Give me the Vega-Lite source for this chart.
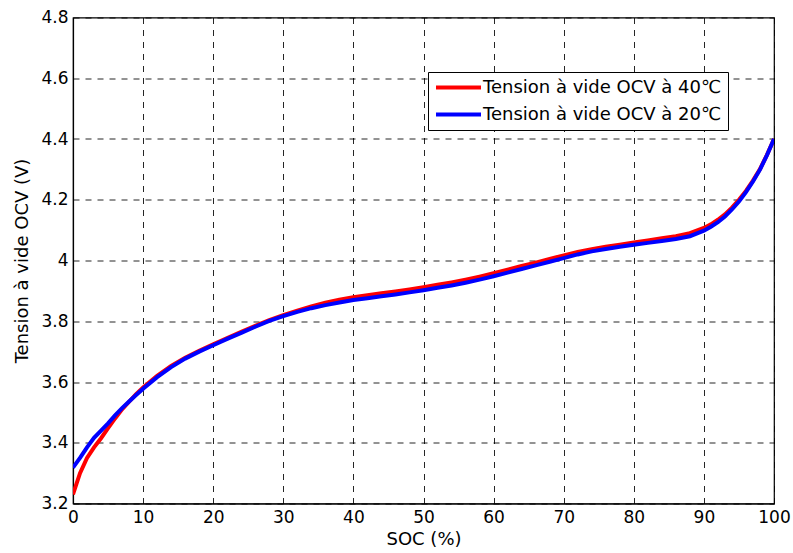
{
  "$schema": "https://vega.github.io/schema/vega-lite/v6.json",
  "width": 701,
  "height": 486,
  "autosize": "none",
  "padding": {"left": 73, "top": 17.5, "right": 19, "bottom": 49.5},
  "background": "white",
  "config": {
    "font": "DejaVu Sans",
    "view": {"stroke": "black", "strokeWidth": 1.2},
    "axis": {
      "labelFont": "DejaVu Sans", "labelFontSize": 17, "labelColor": "black",
      "titleFont": "DejaVu Sans", "titleFontSize": 18, "titleColor": "black", "titleFontWeight": "normal",
      "domainColor": "black", "domainWidth": 1.2,
      "ticks": false,
      "gridColor": "black", "gridOpacity": 0.85, "gridDash": [6, 6], "gridWidth": 1
    }
  },
  "datasets": {
    "ocv": [
      {"soc": 0, "v": 3.23, "serie": "Tension à vide OCV à 40℃"},
      {"soc": 1, "v": 3.30, "serie": "Tension à vide OCV à 40℃"},
      {"soc": 2, "v": 3.35, "serie": "Tension à vide OCV à 40℃"},
      {"soc": 3, "v": 3.385, "serie": "Tension à vide OCV à 40℃"},
      {"soc": 4, "v": 3.415, "serie": "Tension à vide OCV à 40℃"},
      {"soc": 5, "v": 3.448, "serie": "Tension à vide OCV à 40℃"},
      {"soc": 6, "v": 3.48, "serie": "Tension à vide OCV à 40℃"},
      {"soc": 7, "v": 3.51, "serie": "Tension à vide OCV à 40℃"},
      {"soc": 8, "v": 3.535, "serie": "Tension à vide OCV à 40℃"},
      {"soc": 9, "v": 3.56, "serie": "Tension à vide OCV à 40℃"},
      {"soc": 10, "v": 3.582, "serie": "Tension à vide OCV à 40℃"},
      {"soc": 12, "v": 3.62, "serie": "Tension à vide OCV à 40℃"},
      {"soc": 14, "v": 3.653, "serie": "Tension à vide OCV à 40℃"},
      {"soc": 16, "v": 3.68, "serie": "Tension à vide OCV à 40℃"},
      {"soc": 18, "v": 3.703, "serie": "Tension à vide OCV à 40℃"},
      {"soc": 20, "v": 3.724, "serie": "Tension à vide OCV à 40℃"},
      {"soc": 22, "v": 3.745, "serie": "Tension à vide OCV à 40℃"},
      {"soc": 24, "v": 3.765, "serie": "Tension à vide OCV à 40℃"},
      {"soc": 26, "v": 3.785, "serie": "Tension à vide OCV à 40℃"},
      {"soc": 28, "v": 3.804, "serie": "Tension à vide OCV à 40℃"},
      {"soc": 30, "v": 3.82, "serie": "Tension à vide OCV à 40℃"},
      {"soc": 32, "v": 3.835, "serie": "Tension à vide OCV à 40℃"},
      {"soc": 34, "v": 3.849, "serie": "Tension à vide OCV à 40℃"},
      {"soc": 36, "v": 3.861, "serie": "Tension à vide OCV à 40℃"},
      {"soc": 38, "v": 3.871, "serie": "Tension à vide OCV à 40℃"},
      {"soc": 40, "v": 3.879, "serie": "Tension à vide OCV à 40℃"},
      {"soc": 42, "v": 3.886, "serie": "Tension à vide OCV à 40℃"},
      {"soc": 44, "v": 3.892, "serie": "Tension à vide OCV à 40℃"},
      {"soc": 46, "v": 3.898, "serie": "Tension à vide OCV à 40℃"},
      {"soc": 48, "v": 3.905, "serie": "Tension à vide OCV à 40℃"},
      {"soc": 50, "v": 3.912, "serie": "Tension à vide OCV à 40℃"},
      {"soc": 52, "v": 3.92, "serie": "Tension à vide OCV à 40℃"},
      {"soc": 54, "v": 3.928, "serie": "Tension à vide OCV à 40℃"},
      {"soc": 56, "v": 3.937, "serie": "Tension à vide OCV à 40℃"},
      {"soc": 58, "v": 3.947, "serie": "Tension à vide OCV à 40℃"},
      {"soc": 60, "v": 3.958, "serie": "Tension à vide OCV à 40℃"},
      {"soc": 62, "v": 3.97, "serie": "Tension à vide OCV à 40℃"},
      {"soc": 64, "v": 3.982, "serie": "Tension à vide OCV à 40℃"},
      {"soc": 66, "v": 3.993, "serie": "Tension à vide OCV à 40℃"},
      {"soc": 68, "v": 4.005, "serie": "Tension à vide OCV à 40℃"},
      {"soc": 70, "v": 4.017, "serie": "Tension à vide OCV à 40℃"},
      {"soc": 72, "v": 4.028, "serie": "Tension à vide OCV à 40℃"},
      {"soc": 74, "v": 4.037, "serie": "Tension à vide OCV à 40℃"},
      {"soc": 76, "v": 4.045, "serie": "Tension à vide OCV à 40℃"},
      {"soc": 78, "v": 4.052, "serie": "Tension à vide OCV à 40℃"},
      {"soc": 80, "v": 4.059, "serie": "Tension à vide OCV à 40℃"},
      {"soc": 82, "v": 4.066, "serie": "Tension à vide OCV à 40℃"},
      {"soc": 84, "v": 4.073, "serie": "Tension à vide OCV à 40℃"},
      {"soc": 86, "v": 4.08, "serie": "Tension à vide OCV à 40℃"},
      {"soc": 88, "v": 4.09, "serie": "Tension à vide OCV à 40℃"},
      {"soc": 90, "v": 4.107, "serie": "Tension à vide OCV à 40℃"},
      {"soc": 91, "v": 4.119, "serie": "Tension à vide OCV à 40℃"},
      {"soc": 92, "v": 4.134, "serie": "Tension à vide OCV à 40℃"},
      {"soc": 93, "v": 4.152, "serie": "Tension à vide OCV à 40℃"},
      {"soc": 94, "v": 4.174, "serie": "Tension à vide OCV à 40℃"},
      {"soc": 95, "v": 4.2, "serie": "Tension à vide OCV à 40℃"},
      {"soc": 96, "v": 4.229, "serie": "Tension à vide OCV à 40℃"},
      {"soc": 97, "v": 4.263, "serie": "Tension à vide OCV à 40℃"},
      {"soc": 98, "v": 4.301, "serie": "Tension à vide OCV à 40℃"},
      {"soc": 99, "v": 4.348, "serie": "Tension à vide OCV à 40℃"},
      {"soc": 100, "v": 4.40, "serie": "Tension à vide OCV à 40℃"},
      {"soc": 0, "v": 3.318, "serie": "Tension à vide OCV à 20℃"},
      {"soc": 1, "v": 3.35, "serie": "Tension à vide OCV à 20℃"},
      {"soc": 2, "v": 3.385, "serie": "Tension à vide OCV à 20℃"},
      {"soc": 3, "v": 3.416, "serie": "Tension à vide OCV à 20℃"},
      {"soc": 4, "v": 3.44, "serie": "Tension à vide OCV à 20℃"},
      {"soc": 5, "v": 3.464, "serie": "Tension à vide OCV à 20℃"},
      {"soc": 6, "v": 3.49, "serie": "Tension à vide OCV à 20℃"},
      {"soc": 7, "v": 3.514, "serie": "Tension à vide OCV à 20℃"},
      {"soc": 8, "v": 3.536, "serie": "Tension à vide OCV à 20℃"},
      {"soc": 9, "v": 3.557, "serie": "Tension à vide OCV à 20℃"},
      {"soc": 10, "v": 3.578, "serie": "Tension à vide OCV à 20℃"},
      {"soc": 12, "v": 3.616, "serie": "Tension à vide OCV à 20℃"},
      {"soc": 14, "v": 3.649, "serie": "Tension à vide OCV à 20℃"},
      {"soc": 16, "v": 3.677, "serie": "Tension à vide OCV à 20℃"},
      {"soc": 18, "v": 3.7, "serie": "Tension à vide OCV à 20℃"},
      {"soc": 20, "v": 3.721, "serie": "Tension à vide OCV à 20℃"},
      {"soc": 22, "v": 3.742, "serie": "Tension à vide OCV à 20℃"},
      {"soc": 24, "v": 3.762, "serie": "Tension à vide OCV à 20℃"},
      {"soc": 26, "v": 3.782, "serie": "Tension à vide OCV à 20℃"},
      {"soc": 28, "v": 3.801, "serie": "Tension à vide OCV à 20℃"},
      {"soc": 30, "v": 3.817, "serie": "Tension à vide OCV à 20℃"},
      {"soc": 32, "v": 3.831, "serie": "Tension à vide OCV à 20℃"},
      {"soc": 34, "v": 3.843, "serie": "Tension à vide OCV à 20℃"},
      {"soc": 36, "v": 3.853, "serie": "Tension à vide OCV à 20℃"},
      {"soc": 38, "v": 3.862, "serie": "Tension à vide OCV à 20℃"},
      {"soc": 40, "v": 3.87, "serie": "Tension à vide OCV à 20℃"},
      {"soc": 42, "v": 3.876, "serie": "Tension à vide OCV à 20℃"},
      {"soc": 44, "v": 3.882, "serie": "Tension à vide OCV à 20℃"},
      {"soc": 46, "v": 3.888, "serie": "Tension à vide OCV à 20℃"},
      {"soc": 48, "v": 3.895, "serie": "Tension à vide OCV à 20℃"},
      {"soc": 50, "v": 3.902, "serie": "Tension à vide OCV à 20℃"},
      {"soc": 52, "v": 3.91, "serie": "Tension à vide OCV à 20℃"},
      {"soc": 54, "v": 3.918, "serie": "Tension à vide OCV à 20℃"},
      {"soc": 56, "v": 3.927, "serie": "Tension à vide OCV à 20℃"},
      {"soc": 58, "v": 3.937, "serie": "Tension à vide OCV à 20℃"},
      {"soc": 60, "v": 3.948, "serie": "Tension à vide OCV à 20℃"},
      {"soc": 62, "v": 3.96, "serie": "Tension à vide OCV à 20℃"},
      {"soc": 64, "v": 3.972, "serie": "Tension à vide OCV à 20℃"},
      {"soc": 66, "v": 3.984, "serie": "Tension à vide OCV à 20℃"},
      {"soc": 68, "v": 3.996, "serie": "Tension à vide OCV à 20℃"},
      {"soc": 70, "v": 4.008, "serie": "Tension à vide OCV à 20℃"},
      {"soc": 72, "v": 4.02, "serie": "Tension à vide OCV à 20℃"},
      {"soc": 74, "v": 4.03, "serie": "Tension à vide OCV à 20℃"},
      {"soc": 76, "v": 4.038, "serie": "Tension à vide OCV à 20℃"},
      {"soc": 78, "v": 4.045, "serie": "Tension à vide OCV à 20℃"},
      {"soc": 80, "v": 4.052, "serie": "Tension à vide OCV à 20℃"},
      {"soc": 82, "v": 4.058, "serie": "Tension à vide OCV à 20℃"},
      {"soc": 84, "v": 4.064, "serie": "Tension à vide OCV à 20℃"},
      {"soc": 86, "v": 4.071, "serie": "Tension à vide OCV à 20℃"},
      {"soc": 88, "v": 4.08, "serie": "Tension à vide OCV à 20℃"},
      {"soc": 90, "v": 4.098, "serie": "Tension à vide OCV à 20℃"},
      {"soc": 91, "v": 4.111, "serie": "Tension à vide OCV à 20℃"},
      {"soc": 92, "v": 4.126, "serie": "Tension à vide OCV à 20℃"},
      {"soc": 93, "v": 4.145, "serie": "Tension à vide OCV à 20℃"},
      {"soc": 94, "v": 4.168, "serie": "Tension à vide OCV à 20℃"},
      {"soc": 95, "v": 4.194, "serie": "Tension à vide OCV à 20℃"},
      {"soc": 96, "v": 4.225, "serie": "Tension à vide OCV à 20℃"},
      {"soc": 97, "v": 4.26, "serie": "Tension à vide OCV à 20℃"},
      {"soc": 98, "v": 4.299, "serie": "Tension à vide OCV à 20℃"},
      {"soc": 99, "v": 4.347, "serie": "Tension à vide OCV à 20℃"},
      {"soc": 100, "v": 4.40, "serie": "Tension à vide OCV à 20℃"}
    ]
  },
  "data": {"name": "ocv"},
  "encoding": {
    "x": {
      "field": "soc", "type": "quantitative",
      "scale": {"domain": [0, 100], "nice": false},
      "axis": {"title": "SOC (%)", "values": [0,10,20,30,40,50,60,70,80,90,100], "labelPadding": 6, "titlePadding": 5, "labelFlush": false}
    },
    "y": {
      "field": "v", "type": "quantitative",
      "scale": {"domain": [3.2, 4.8], "nice": false, "zero": false},
      "axis": {"title": "Tension à vide OCV (V)", "values": [3.2,3.4,3.6,3.8,4,4.2,4.4,4.6,4.8], "format": "~g", "labelPadding": 5, "titlePadding": 9, "labelFlush": false}
    },
    "color": {
      "field": "serie", "type": "nominal",
      "scale": {"domain": ["Tension à vide OCV à 40℃", "Tension à vide OCV à 20℃"], "range": ["#ff0000", "#0000ff"]},
      "legend": {
        "title": null,
        "orient": "none",
        "legendX": 355,
        "legendY": 54.5,
        "fillColor": "white",
        "strokeColor": "black",
        "padding": 6,
        "labelFontSize": 18,
        "labelFont": "DejaVu Sans",
        "labelColor": "black",
        "labelLimit": 0,
        "symbolType": "M-3,0H3",
        "symbolSize": 225,
        "symbolStrokeWidth": 4,
        "symbolOffset": 15,
        "labelOffset": 15,
        "rowPadding": 8
      }
    }
  },
  "layer": [
    {"transform": [{"filter": "datum.serie == 'Tension à vide OCV à 40℃'"}], "mark": {"type": "line", "strokeWidth": 4, "clip": true}},
    {"transform": [{"filter": "datum.serie == 'Tension à vide OCV à 20℃'"}], "mark": {"type": "line", "strokeWidth": 4, "clip": true}}
  ]
}
